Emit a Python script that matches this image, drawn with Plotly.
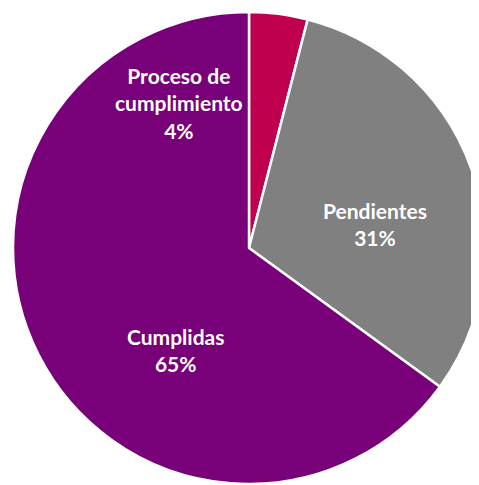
import plotly.graph_objects as go

labels = ["Proceso de cumplimiento", "Pendientes", "Cumplidas"]
values = [4, 31, 65]
colors = ["#C0004F", "#808080", "#780078"]
label_texts = ["Proceso de<br>cumplimiento<br>4%", "Pendientes<br>31%", "Cumplidas<br>65%"]
label_pos = [(0.352, 0.807), (0.767, 0.551), (0.345, 0.284)]

W, H = 479, 485
fig = go.Figure(go.Pie(
    labels=labels, values=values, sort=False, direction="clockwise", rotation=0,
    marker=dict(colors=colors, line=dict(color="white", width=2.5)),
    textinfo="none", hoverinfo="label+percent", showlegend=False,
))
for t, (x, y) in zip(label_texts, label_pos):
    fig.add_annotation(text="<b>" + t + "</b>", x=x, y=y, xref="paper", yref="paper",
                       showarrow=False, font=dict(family="Lato", size=21, color="white"),
                       xanchor="center", yanchor="middle", align="center")
fig.update_layout(width=W, height=H, margin=dict(l=5, r=2, t=4, b=9),
                  paper_bgcolor="white", plot_bgcolor="white")
fig.write_html("out.html")
